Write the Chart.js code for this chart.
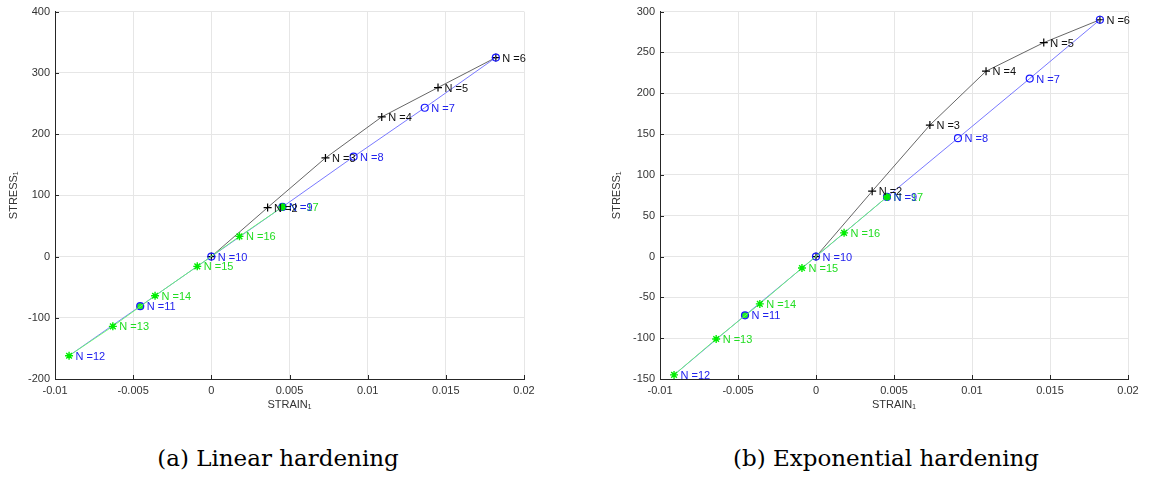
<!DOCTYPE html>
<html>
<head>
<meta charset="utf-8">
<script src="https://cdn.jsdelivr.net/npm/chart.js@4/dist/chart.umd.min.js"></script>
<style>
  html, body { margin: 0; padding: 0; background: #fff; width: 1149px; height: 477px; overflow: hidden; }
  .panel { position: absolute; top: 0; height: 420px; }
  #pa { left: 0; width: 575px; }
  #pb { left: 575px; width: 574px; }
  .cap { position: absolute; top: 445px; font-family: 'DejaVu Serif', 'Liberation Serif', serif; font-size: 23px; color: #000; white-space: nowrap; transform: translateX(-50%); }
  #capA { left: 278px; }
  #capB { left: 886px; }
</style>
</head>
<body>
<div class="panel" id="pa"><canvas id="ca" width="575" height="420"></canvas></div>
<div class="panel" id="pb"><canvas id="cb" width="574" height="420"></canvas></div>
<div class="cap" id="capA">(a) Linear hardening</div>
<div class="cap" id="capB">(b) Exponential hardening</div>
<script>
// ---------- data ----------
// (a) Linear hardening
const blackStrainA = [0, 0.0036, 0.0073, 0.0109, 0.0145, 0.0182];
const blackStressA = [0, 80, 161, 228, 276, 325];
const blueStrainA  = [0.0182, 0.01365, 0.0091, 0.00455, 0, -0.00455, -0.0091];
const blueStressA  = [325, 243, 163, 81, 0, -81, -162];
const greenStrainA = [-0.0091, -0.0063, -0.0036, -0.0009, 0.0018, 0.00455];
const greenStressA = [-162, -114, -64, -16, 33, 81];

// (b) Exponential hardening
const blackStrainB = [0, 0.0036, 0.0073, 0.0109, 0.0146, 0.0182];
const blackStressB = [0, 80, 161, 227, 262, 290];
const blueStrainB  = [0.0182, 0.0137, 0.0091, 0.00455, 0, -0.00455, -0.0091];
const blueStressB  = [290, 218, 145, 73, 0, -72, -145];
const greenStrainB = [-0.0091, -0.0064, -0.0036, -0.0009, 0.0018, 0.00455];
const greenStressB = [-145, -101, -58, -14, 29, 73];

// point labels (null = hidden under another label)
const blackLabels = [null, 'N =2', 'N =3', 'N =4', 'N =5', 'N =6'];
const blueLabels  = [null, 'N =7', 'N =8', 'N =9', 'N =10', 'N =11', 'N =12'];
const greenLabels = [null, 'N =13', 'N =14', 'N =15', 'N =16', 'N =17'];

// ticks
const xTickValues = [-0.01, -0.005, 0, 0.005, 0.01, 0.015, 0.02];
const xTickLabels = ['-0.01', '-0.005', '0', '0.005', '0.01', '0.015', '0.02'];
const yTickValuesA = [-200, -100, 0, 100, 200, 300, 400];
const yTickLabelsA = ['-200', '-100', '0', '100', '200', '300', '400'];
const yTickValuesB = [-150, -100, -50, 0, 50, 100, 150, 200, 250, 300];
const yTickLabelsB = ['-150', '-100', '-50', '0', '50', '100', '150', '200', '250', '300'];

const xTitle = 'STRAIN\u2081';
const yTitle = 'STRESS\u2081';

// ---------- helpers ----------
const FONT = "'Liberation Sans', Arial, Helvetica, sans-serif";
const AXIS_COLOR = '#262626';
const GRID_COLOR = '#e6e6e6';
const NONE = 'rgba(0,0,0,0)';
const FILL_G = '#22ee22';

function pts(xs, ys) { return xs.map((x, i) => ({ x: x, y: ys[i] })); }

const pointLabelPlugin = {
  id: 'pointLabels',
  afterDatasetsDraw(chart) {
    const ctx = chart.ctx;
    ctx.save();
    ctx.font = '11px ' + FONT;
    ctx.textBaseline = 'middle';
    ctx.textAlign = 'left';
    chart.data.datasets.forEach((ds, i) => {
      const meta = chart.getDatasetMeta(i);
      ctx.fillStyle = ds.labelColor;
      meta.data.forEach((el, j) => {
        const t = ds.pointLabels[j];
        if (t) ctx.fillText(t, el.x + 6.5, el.y + 1);
      });
    });
    ctx.restore();
  }
};

const innerTicksPlugin = {
  id: 'innerTicks',
  afterDraw(chart) {
    const ctx = chart.ctx, a = chart.chartArea;
    const xs = chart.scales.x, ys = chart.scales.y;
    ctx.save();
    ctx.strokeStyle = AXIS_COLOR;
    ctx.lineWidth = 1;
    ctx.beginPath();
    xs.ticks.forEach(t => {
      const px = Math.round(xs.getPixelForValue(t.value)) + 0.5;
      ctx.moveTo(px, a.bottom); ctx.lineTo(px, a.bottom - 4);
    });
    ys.ticks.forEach(t => {
      const py = Math.round(ys.getPixelForValue(t.value)) + 0.5;
      ctx.moveTo(a.left, py); ctx.lineTo(a.left + 4, py);
    });
    ctx.stroke();
    ctx.restore();
  }
};

function makeChart(id, d, yVals, yLabels, yMin, yMax, yAxisWidth, padRight, yTitlePad) {
  const datasets = [
    {
      data: pts(d.gx, d.gy), showLine: true, order: 0,
      borderColor: '#66ff66', borderWidth: 0.9,
      pointStyle: 'star', pointRadius: 4, pointBorderColor: '#00ee00', pointBorderWidth: 1.4,
      pointBackgroundColor: NONE,
      labelColor: '#22dd22', pointLabels: greenLabels
    },
    {
      data: pts(d.bx, d.by), showLine: true, order: 1,
      borderColor: '#6a6aff', borderWidth: 0.9,
      pointStyle: 'circle', pointRadius: [3.5, 3.5, 3.5, 3.5, 3.5, 3.5, 0], pointBorderColor: '#1a1aff', pointBorderWidth: 1.2,
      pointBackgroundColor: [NONE, NONE, NONE, FILL_G, NONE, FILL_G, NONE],
      labelColor: '#2222ee', pointLabels: blueLabels
    },
    {
      data: pts(d.kx, d.ky), showLine: true, order: 2,
      borderColor: '#555555', borderWidth: 0.9,
      pointStyle: 'cross', pointRadius: 4, pointBorderColor: '#000000', pointBorderWidth: 1.2,
      pointBackgroundColor: NONE,
      labelColor: '#111111', pointLabels: blackLabels
    }
  ];
  return new Chart(document.getElementById(id), {
    type: 'scatter',
    data: { datasets: datasets },
    options: {
      responsive: false,
      animation: false,
      devicePixelRatio: 1,
      layout: { padding: { top: 8, right: padRight, left: 0, bottom: 0 } },
      plugins: { legend: { display: false }, tooltip: { enabled: false } },
      elements: { line: { tension: 0 } },
      scales: {
        x: {
          type: 'linear', min: -0.01, max: 0.02,
          afterBuildTicks: s => { s.ticks = xTickValues.map(v => ({ value: v })); },
          afterFit: s => { s.height = 41; },
          ticks: {
            callback: (v, i) => xTickLabels[i],
            font: { family: FONT, size: 11 }, color: '#333333', padding: 5, maxRotation: 0
          },
          grid: { color: GRID_COLOR, drawTicks: false, lineWidth: 1 },
          border: { display: true, color: AXIS_COLOR, width: 1 },
          title: { display: true, text: xTitle, font: { family: FONT, size: 11 }, color: '#333333', padding: { top: 0, bottom: 8 } }
        },
        y: {
          type: 'linear', min: yMin, max: yMax,
          afterBuildTicks: s => { s.ticks = yVals.map(v => ({ value: v })); },
          afterFit: s => { s.width = yAxisWidth; },
          ticks: {
            callback: (v, i) => yLabels[i],
            font: { family: FONT, size: 11 }, color: '#333333', padding: 5
          },
          grid: { color: GRID_COLOR, drawTicks: false, lineWidth: 1 },
          border: { display: true, color: AXIS_COLOR, width: 1 },
          title: { display: true, text: yTitle, font: { family: FONT, size: 11 }, color: '#333333', padding: { top: yTitlePad, bottom: 0 } }
        }
      }
    },
    plugins: [pointLabelPlugin, innerTicksPlugin]
  });
}

makeChart('ca', { kx: blackStrainA, ky: blackStressA, bx: blueStrainA, by: blueStressA, gx: greenStrainA, gy: greenStressA },
  yTickValuesA, yTickLabelsA, -200, 400, 55, 51, 7);
makeChart('cb', { kx: blackStrainB, ky: blackStressB, bx: blueStrainB, by: blueStressB, gx: greenStrainB, gy: greenStressB },
  yTickValuesB, yTickLabelsB, -150, 300, 85, 21, 35);
</script>
</body>
</html>
